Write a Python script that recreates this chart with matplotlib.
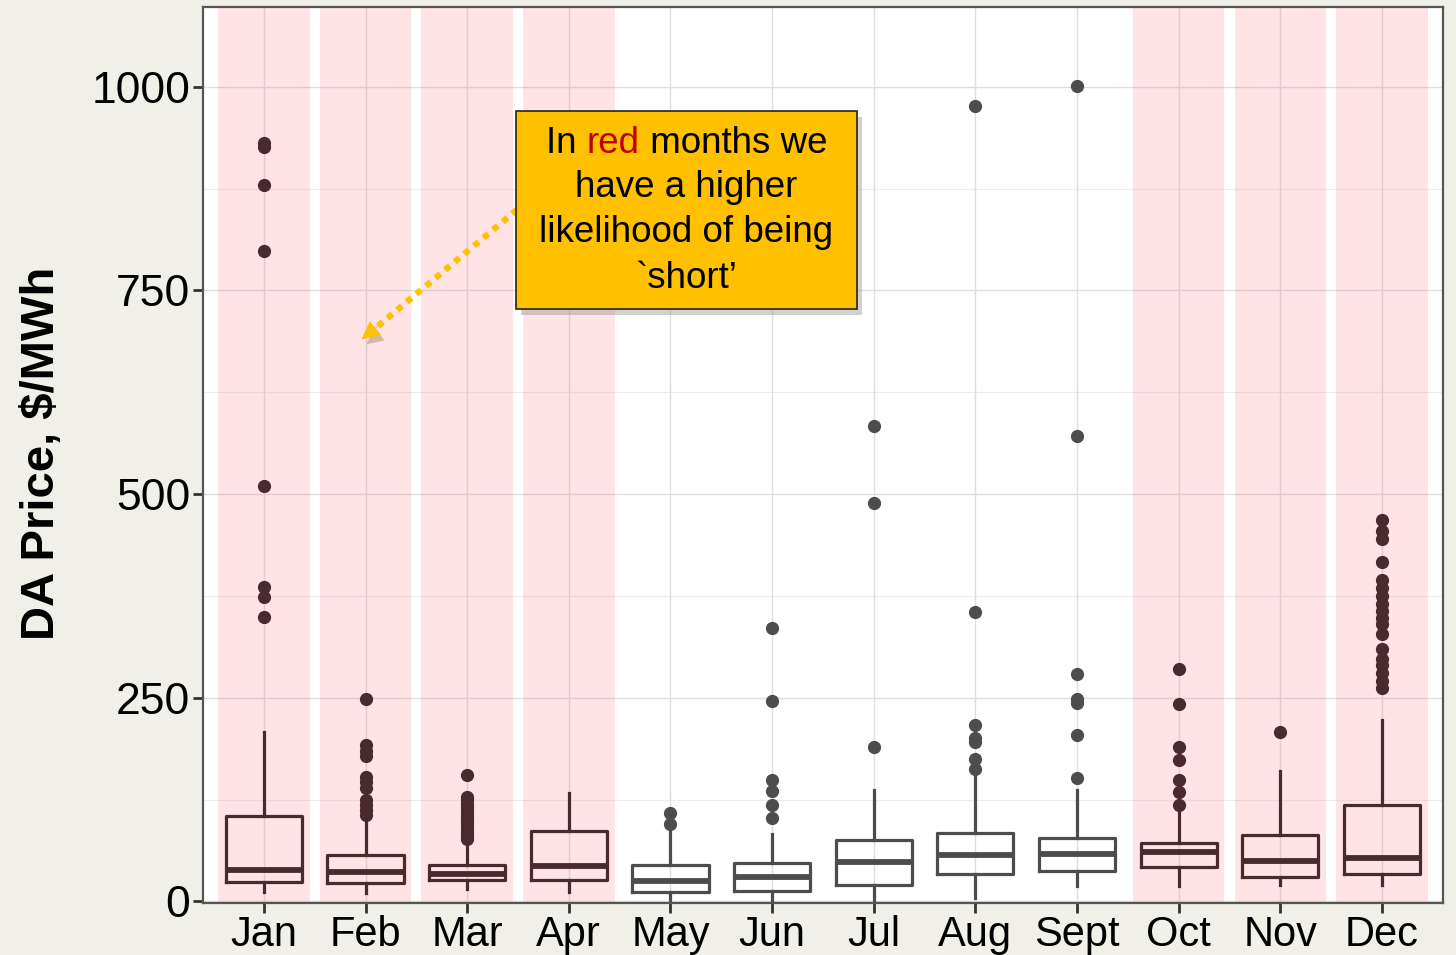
import matplotlib
matplotlib.use("Agg")
import matplotlib.pyplot as plt
import matplotlib.patheffects as pe
from matplotlib.patches import Rectangle
import numpy as np

plt.rcParams["font.family"] = ["Liberation Sans", "DejaVu Sans"]

months = ["Jan", "Feb", "Mar", "Apr", "May", "Jun", "Jul", "Aug", "Sept", "Oct", "Nov", "Dec"]
red_months = [True, True, True, True, False, False, False, False, False, True, True, True]

q1 = [24, 23, 26, 26, 12, 13, 20, 33, 37, 42, 30, 33]
med = [39, 36, 33, 43, 25, 30, 48, 57, 58, 61, 50, 53]
q3 = [105, 57, 45, 86, 44, 47, 75, 84, 78, 72, 82, 118]
whislo = [12, 10, 15, 12, 2, 2, 2, 4, 19, 19, 20, 20]
whishi = [208, 100, 69, 133, 87, 83, 137, 155, 137, 113, 160, 222]
outliers = [
    [931, 926, 879, 798, 510, 386, 374, 349],
    [248, 192, 185, 178, 153, 146, 139, 124, 118, 112, 106],
    [155, 128, 124, 120, 116, 112, 108, 104, 100, 96, 92, 88, 84, 80, 76],
    [],
    [109, 95],
    [335, 246, 149, 136, 118, 102],
    [583, 489, 190],
    [977, 355, 217, 200, 195, 175, 162],
    [1001, 571, 279, 249, 244, 204, 152],
    [285, 242, 190, 173, 149, 134, 118],
    [208],
    [468, 455, 445, 416, 395, 385, 375, 365, 357, 348, 340, 328, 310, 298, 290, 280, 270, 262],
]
yticks = [0, 250, 500, 750, 1000]
ylabel = "DA Price, $/MWh"
note_lines = ["have a higher", "likelihood of being", "`short\u2019"]

BG = "#f0f0e9"
RED_C = "#4a2a2d"
GREY_C = "#4d4d4d"
GOLD = "#ffc000"

fig = plt.figure(figsize=(14.56, 9.55), dpi=100, facecolor=BG)
ax = fig.add_axes([0.1394, 0.0545, 0.8516, 0.9382])
ax.set_facecolor("white")

pos = np.arange(1, len(months) + 1)
ax.set_xlim(0.4, 12.6)
ax.set_ylim(-2, 1098)

# grid
for y in yticks:
    ax.axhline(y, color="#dedede", lw=1.0, zorder=0.5)
for y in [125, 375, 625, 875]:
    ax.axhline(y, color="#ececec", lw=0.8, zorder=0.5)
for p in pos:
    ax.axvline(p, color="#dedede", lw=1.0, zorder=0.5)

# pink bands
for p, r in zip(pos, red_months):
    if r:
        ax.axvspan(p - 0.45, p + 0.45, color="#ff8c96", alpha=0.24, lw=0, zorder=0.8)

# boxes
for i, p in enumerate(pos):
    c = RED_C if red_months[i] else GREY_C
    stats = [dict(med=med[i], q1=q1[i], q3=q3[i], whislo=whislo[i], whishi=whishi[i],
                  fliers=outliers[i])]
    ax.bxp(stats, positions=[p], widths=0.75, showcaps=False, patch_artist=False,
           manage_ticks=False,
           boxprops=dict(color=c, lw=2.3),
           whiskerprops=dict(color=c, lw=2.3),
           medianprops=dict(color=c, lw=4.2, solid_capstyle="butt"),
           flierprops=dict(marker="o", markerfacecolor=c, markeredgecolor=c,
                           markersize=8.5, linestyle="none"))

ax.set_xticks(pos)
ax.set_xticklabels(months)
ax.set_yticks(yticks)
ax.set_yticklabels([str(v) for v in yticks])
ax.tick_params(axis="both", length=7, width=2, color="#333333",
               labelcolor="black", pad=2)
ax.tick_params(axis="x", labelsize=30, pad=2)
ax.tick_params(axis="y", labelsize=32)
for s in ax.spines.values():
    s.set_color("#555555")
    s.set_linewidth(1.6)

fig.text(0.029, 0.525, ylabel, rotation=90, ha="center", va="center",
         fontsize=34, fontweight="bold",
         family=["Liberation Sans Narrow", "Liberation Sans"])

# annotation box (axes fraction coordinates)
bx0, by0, bw, bh = 0.2524, 0.663, 0.275, 0.221
shadow = Rectangle((bx0 + 0.004, by0 - 0.007), bw, bh, transform=ax.transAxes,
                   facecolor="#999999", alpha=0.45, lw=0, zorder=9)
ax.add_patch(shadow)
box = Rectangle((bx0, by0), bw, bh, transform=ax.transAxes,
                facecolor=GOLD, edgecolor="#222222", lw=1.2, zorder=10)
ax.add_patch(box)

# arrow: dotted shaft + solid head
shaft = ax.annotate("", xy=(2.10, 704), xytext=(3.49, 849),
                    arrowprops=dict(arrowstyle="-", color=GOLD, lw=4.5,
                                    linestyle=(0, (1, 1.0)), capstyle="butt",
                                    shrinkA=0, shrinkB=0),
                    zorder=8)
shaft.arrow_patch.set_path_effects([pe.SimplePatchShadow(offset=(3, -4), alpha=0.25),
                                    pe.Normal()])
head = ax.annotate("", xy=(1.96, 690), xytext=(2.12, 706),
                   arrowprops=dict(arrowstyle="-|>", color=GOLD, lw=0.5,
                                   mutation_scale=30, shrinkA=0, shrinkB=0),
                   zorder=8)
head.arrow_patch.set_path_effects([pe.SimplePatchShadow(offset=(3, -4), alpha=0.25),
                                   pe.Normal()])

fs = 26.5
cx = bx0 + bw / 2
line_y = [0.848, 0.798, 0.748, 0.6975]
fam = ["Liberation Sans"]
t1 = ax.text(cx, line_y[0], "In ", transform=ax.transAxes, ha="left", va="center",
             fontsize=fs, family=fam, zorder=11)
t2 = ax.annotate("red", xy=(1, 0), xycoords=t1, ha="left", va="bottom",
                 fontsize=fs, family=fam, color="#c00000", zorder=11)
t3 = ax.annotate(" months we", xy=(1, 0), xycoords=t2, ha="left", va="bottom",
                 fontsize=fs, family=fam, zorder=11)
for ly, txt in zip(line_y[1:], note_lines):
    ax.text(cx, ly, txt, transform=ax.transAxes, ha="center", va="center",
            fontsize=fs, family=fam, zorder=11)

fig.canvas.draw()
r = fig.canvas.get_renderer()
w = (t1.get_window_extent(r).width + t2.get_window_extent(r).width +
     t3.get_window_extent(r).width)
axw = ax.get_window_extent(r).width
t1.set_x(cx - (w / 2) / axw)

fig.savefig("out.png", dpi=100, facecolor=BG)
